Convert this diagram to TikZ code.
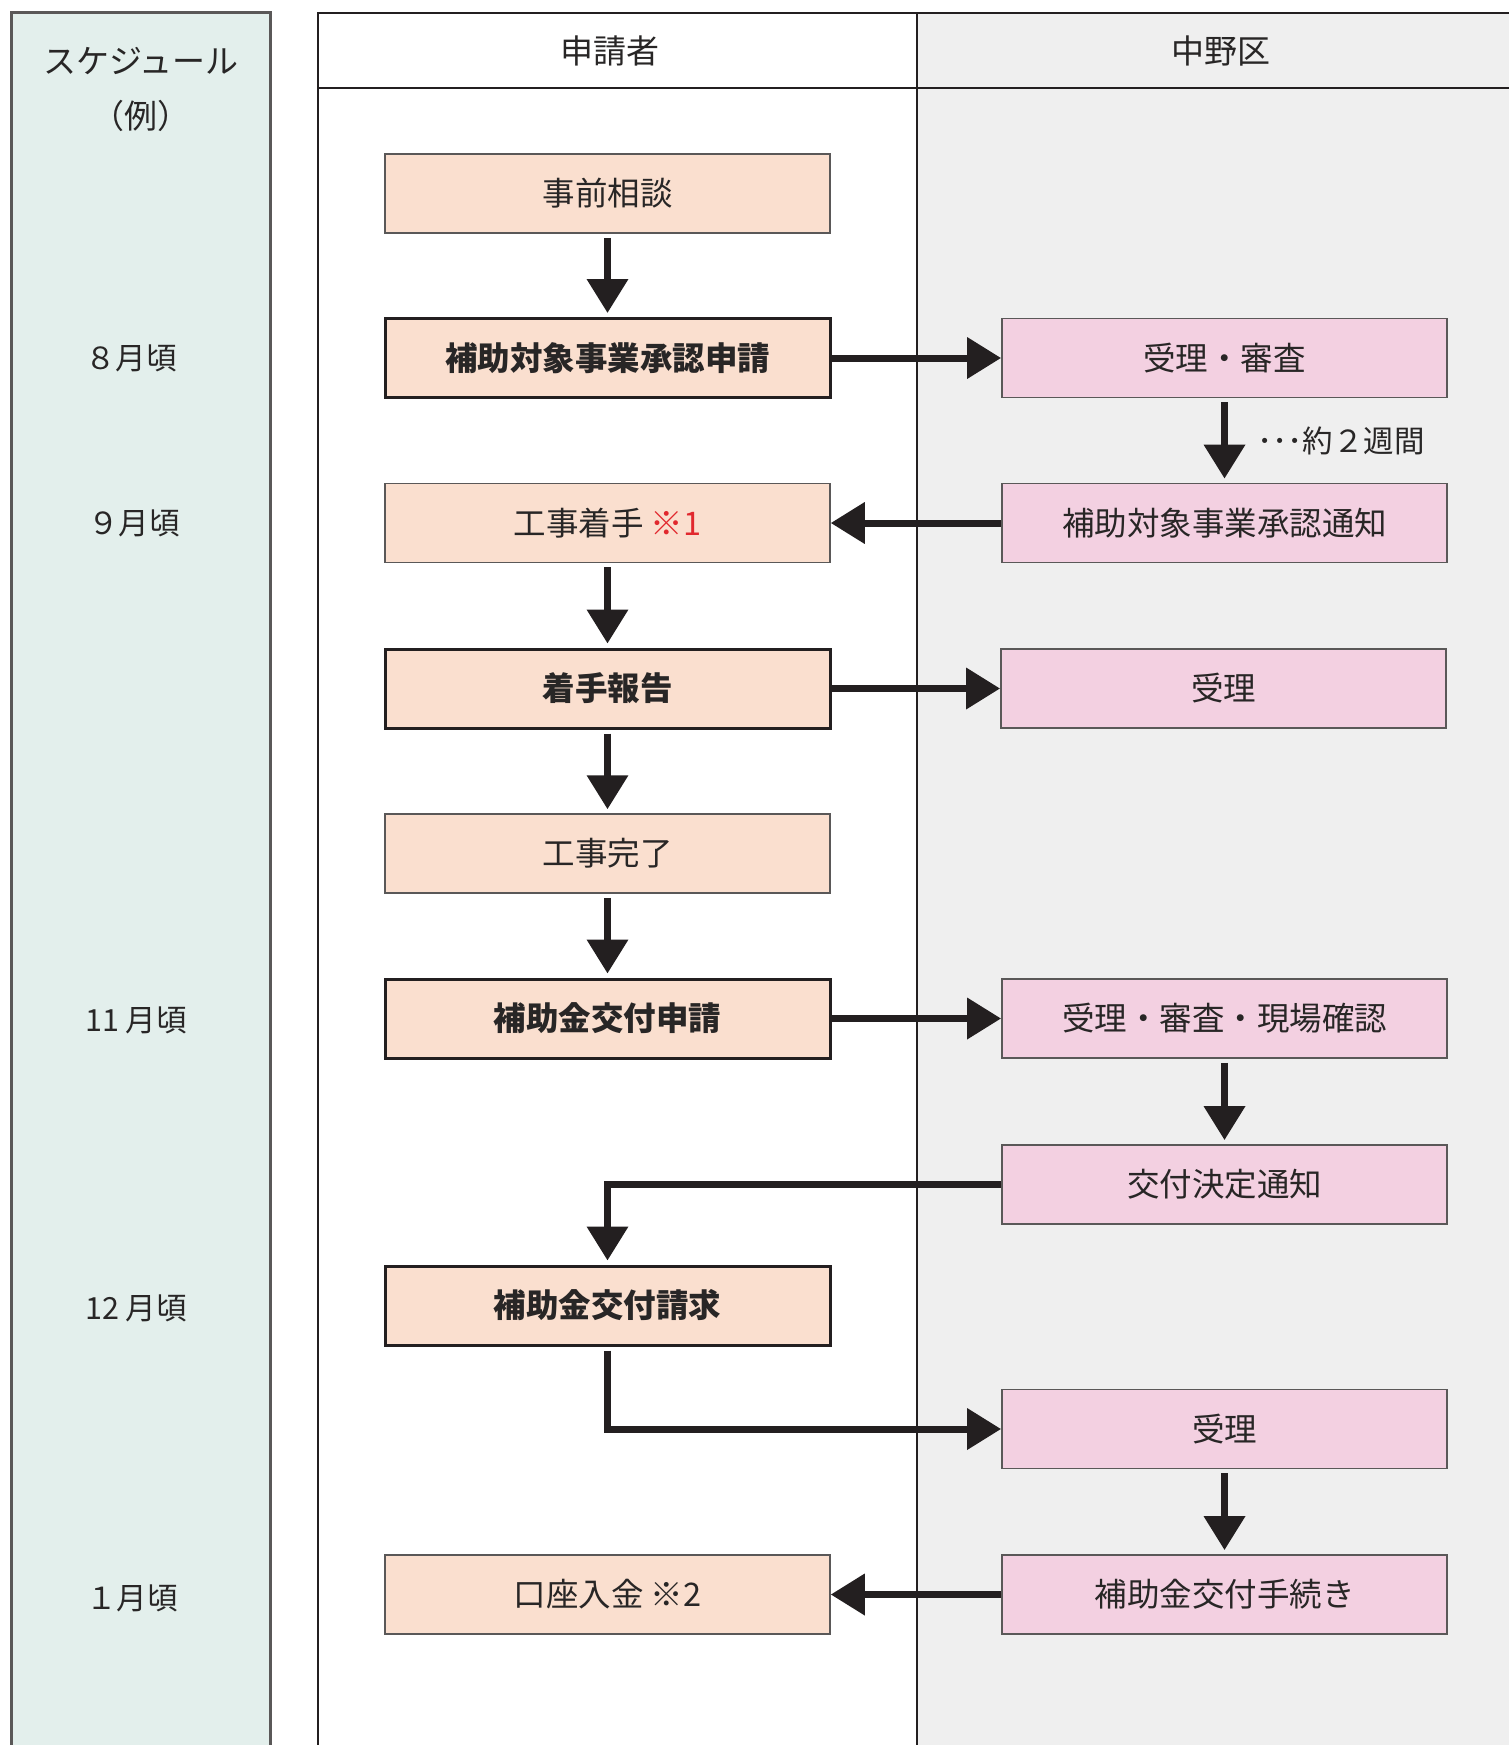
\documentclass[tikz,border=0pt]{standalone}
\usepackage{fontspec}
\setmainfont{Noto Sans CJK JP}
\usetikzlibrary{arrows.meta}
\definecolor{peach}{RGB}{250,223,207}
\definecolor{pinkbox}{RGB}{243,208,225}
\definecolor{graybg}{RGB}{239,239,239}
\definecolor{tealbg}{RGB}{227,239,236}
\definecolor{txt}{RGB}{40,38,38}
\definecolor{boxgray}{RGB}{90,88,88}
\definecolor{linec}{RGB}{35,31,32}
\definecolor{redmark}{RGB}{225,40,46}
\newcommand{\boxfont}{\fontsize{32.5}{37}\selectfont}
\newcommand{\headfont}{\fontsize{33}{38}\selectfont}
\newcommand{\monthfont}{\fontsize{30.5}{35}\selectfont}
\tikzset{
  lbox/.style={draw=boxgray, line width=1.5pt, fill=peach, minimum width=445pt, minimum height=79pt, inner sep=0pt, font=\boxfont, text=txt},
  lboxb/.style={lbox, draw=linec, line width=3pt, font=\boxfont\bfseries},
  rbox/.style={draw=boxgray, line width=1.8pt, fill=pinkbox, minimum width=445pt, minimum height=79pt, inner sep=0pt, font=\boxfont, text=txt},
  arr/.style={draw=linec, line width=7pt, -{Triangle[length=34pt,width=40pt]}},
  varr/.style={arr, shorten <=4pt, shorten >=4pt},
  tbl/.style={draw=linec, line width=2.5pt},
  lbl/.style={font=\monthfont, text=txt, inner sep=0pt}
}
\begin{document}
\begin{tikzpicture}[x=1pt,y=-1pt]
\useasboundingbox (0,0) rectangle (1509,1745);
\fill[white] (0,0) rectangle (1509,1745);
% schedule column
\draw[tbl, fill=tealbg, draw=boxgray, line width=3pt] (11,13) rectangle (270,1780);
\node[font=\headfont, text=txt] (sch) at (141,61) {スケジュール};
\node[font=\headfont, text=txt] (rei) at (141,116) {（例）};
\node[lbl] (m8) at (131,358) {８月頃};
\node[lbl] (m9) at (134,523) {９月頃};
\node[lbl] (m11) at (136,1020) {11 月頃};
\node[lbl] (m12) at (136,1308) {12 月頃};
\node[lbl] (m1) at (132,1598) {１月頃};
% main table
\fill[graybg] (917,13) rectangle (1530,1780);
\draw[tbl] (318,1780) -- (318,13) -- (1530,13);
\draw[tbl] (318,88) -- (1530,88);
\draw[tbl, line width=2pt] (917,13) -- (917,1780);
\node[font=\headfont, text=txt] (h1) at (610,51) {申請者};
\node[font=\headfont, text=txt] (h2) at (1221,51) {中野区};
% left boxes
\node[lbox]  (l1) at (607.5,193.5) {事前相談};
\node[lboxb] (l2) at (607.5,358) {補助対象事業承認申請};
\node[lbox]  (l3) at (607.5,523) {工事着手 \textcolor{redmark}{※1}};
\node[lboxb] (l4) at (607.5,688.5) {着手報告};
\node[lbox]  (l5) at (607.5,853.5) {工事完了};
\node[lboxb] (l6) at (607.5,1018.5) {補助金交付申請};
\node[lboxb] (l7) at (607.5,1305.5) {補助金交付請求};
\node[lbox]  (l8) at (607.5,1594.5) {口座入金 ※2};
% right boxes
\node[rbox] (r1) at (1224.5,358) {受理・審査};
\node[rbox] (r2) at (1224.5,523) {補助対象事業承認通知};
\node[rbox] (r3) at (1223.5,688.5) {受理};
\node[rbox] (r4) at (1224.5,1018.5) {受理・審査・現場確認};
\node[rbox] (r5) at (1224.5,1184.5) {交付決定通知};
\node[rbox] (r6) at (1224.5,1429) {受理};
\node[rbox] (r7) at (1224.5,1594.5) {補助金交付手続き};
% label
\node[font=\monthfont, text=txt, anchor=west, inner sep=0pt] (wk) at (1257,441) {･･･約２週間};
% arrows
\draw[varr] (l1) -- (l2);
\draw[arr] (l2) -- (r1);
\draw[varr] (r1) -- (r2);
\draw[arr] (r2) -- (l3);
\draw[varr] (l3) -- (l4);
\draw[arr] (l4) -- (r3);
\draw[varr] (l4) -- (l5);
\draw[varr] (l5) -- (l6);
\draw[arr] (l6) -- (r4);
\draw[varr] (r4) -- (r5);
\draw[arr, shorten >=4pt] (r5.west) -| (l7.north);
\draw[arr, shorten <=4pt] (l7.south) |- (r6.west);
\draw[varr] (r6) -- (r7);
\draw[arr] (r7) -- (l8);
\end{tikzpicture}
\end{document}
